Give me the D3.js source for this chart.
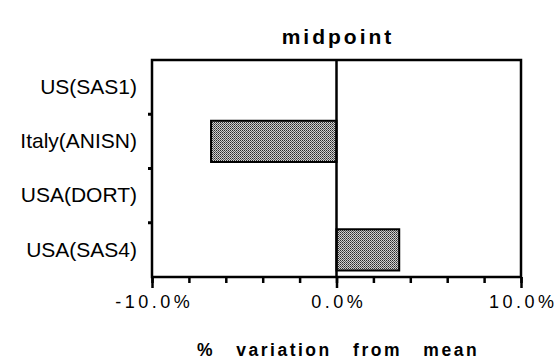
<!DOCTYPE html>
<html>
<head>
<meta charset="utf-8">
<script src="https://cdn.jsdelivr.net/npm/d3@7"></script>
<style>
  html, body { margin: 0; padding: 0; background: #fff; }
  svg { display: block; }
</style>
</head>
<body>
<svg id="chart" width="557" height="360"></svg>
<script>
const categories = ["US(SAS1)", "Italy(ANISN)", "USA(DORT)", "USA(SAS4)"];
const values = [0, -6.8, 0, 3.4];
const xTicks = [-10, 0, 10];
const xMinorTicks = [-10, -8, -6, -4, -2, 0, 2, 4, 6, 8, 10];
const title = "midpoint";
const xTitle = "% variation from mean";

const FONT = "Liberation Sans, Arial, Helvetica, sans-serif";
const svg = d3.select("#chart");
const margin = {left: 152, right: 36, top: 60, bottom: 83};
const W = 557, H = 360;
const x = d3.scaleLinear().domain([-10, 10]).range([margin.left, W - margin.right]);
const y = d3.scaleBand().domain(categories).range([margin.top, H - margin.bottom]).paddingInner(0.24).paddingOuter(0.12);
const yb = d3.scaleBand().domain(categories).range([margin.top, H - margin.bottom]);

const defs = svg.append("defs");
const pat = defs.append("pattern").attr("id", "dots").attr("patternUnits", "userSpaceOnUse")
  .attr("width", 2).attr("height", 2);
pat.append("rect").attr("width", 2).attr("height", 2).attr("fill", "#d0d0d0");
pat.append("rect").attr("x", 0).attr("y", 0).attr("width", 1).attr("height", 1).attr("fill", "#2a2a2a");
pat.append("rect").attr("x", 1).attr("y", 1).attr("width", 1).attr("height", 1).attr("fill", "#5a5a5a");

// frame
svg.append("rect").attr("x", x(-10)).attr("y", margin.top)
  .attr("width", x(10) - x(-10)).attr("height", H - margin.bottom - margin.top)
  .attr("fill", "none").attr("stroke", "#000").attr("stroke-width", 2.5);

// bars
svg.append("g").selectAll("rect").data(categories.map((c, i) => ({c, v: values[i]})).filter(d => d.v !== 0))
  .join("rect")
  .attr("x", d => x(Math.min(0, d.v)))
  .attr("y", d => y(d.c))
  .attr("width", d => Math.abs(x(d.v) - x(0)))
  .attr("height", y.bandwidth())
  .attr("fill", "url(#dots)")
  .attr("stroke", "#000").attr("stroke-width", 2);

// zero line
svg.append("line").attr("x1", x(0)).attr("x2", x(0)).attr("y1", margin.top).attr("y2", H - margin.bottom)
  .attr("stroke", "#000").attr("stroke-width", 2.5);

// x axis minor ticks
const xa = svg.append("g").attr("transform", `translate(0,${H - margin.bottom})`);
xa.call(d3.axisBottom(x).tickValues(xMinorTicks).tickSize(6).tickFormat(""))
  .call(g => g.select(".domain").remove())
  .call(g => g.selectAll("line").attr("stroke-width", 2.5));
const xb = svg.append("g").attr("transform", `translate(0,${H - margin.bottom})`);
xb.call(d3.axisBottom(x).tickValues(xTicks).tickSize(11).tickPadding(7).tickFormat(d => d.toFixed(1) + "%"))
  .call(g => g.select(".domain").remove())
  .call(g => g.selectAll("line").attr("stroke-width", 2.5))
  .call(g => g.selectAll("text").attr("font-family", FONT)
    .attr("font-size", 18).attr("letter-spacing", "3.5px").attr("dx", "1.75px").attr("fill", "#000"));

// y axis labels and ticks at band boundaries
const ya = svg.append("g").attr("transform", `translate(${margin.left},0)`);
ya.call(d3.axisLeft(yb).tickSize(0).tickPadding(15))
  .call(g => g.select(".domain").remove())
  .call(g => g.selectAll("text").attr("font-family", FONT)
    .attr("font-size", 21).attr("fill", "#000"));
ya.selectAll("line.bnd").data(categories.slice(1)).join("line").attr("class", "bnd")
  .attr("x1", -4).attr("x2", 0)
  .attr("y1", d => yb(d)).attr("y2", d => yb(d))
  .attr("stroke", "#000").attr("stroke-width", 3);

// title
svg.append("text").attr("x", x(0)).attr("dx", 1.5).attr("y", 44).attr("text-anchor", "middle")
  .attr("font-family", FONT).attr("font-weight", "bold")
  .attr("font-size", 21).attr("letter-spacing", "3px").text(title);

// x title
svg.append("text").attr("x", 338).attr("y", 356).attr("text-anchor", "middle")
  .attr("font-family", FONT).attr("font-weight", "bold")
  .attr("font-size", 17.5).attr("letter-spacing", "2.5px").attr("word-spacing", "14px").text(xTitle);
</script>
</body>
</html>
